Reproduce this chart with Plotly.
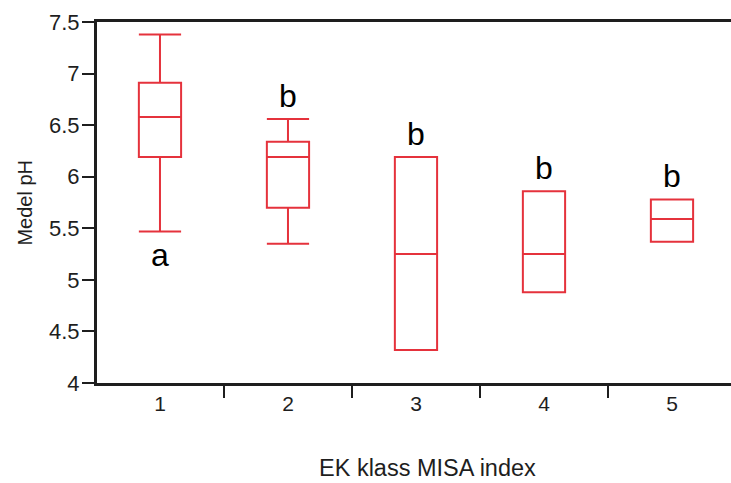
import plotly.graph_objects as go

# Box statistics of mean pH per EK class (MISA index)
classes = ["1", "2", "3", "4", "5"]
lower_fence = [5.47, 5.35, 4.32, 4.88, 5.37]
q1 = [6.19, 5.70, 4.32, 4.88, 5.37]
median = [6.58, 6.19, 5.25, 5.25, 5.59]
q3 = [6.91, 6.34, 6.19, 5.86, 5.78]
upper_fence = [7.38, 6.56, 6.19, 5.86, 5.78]
group_letters = ["a", "b", "b", "b", "b"]
y_ticks = [4, 4.5, 5, 5.5, 6, 6.5, 7, 7.5]
y_tick_text = ["4", "4.5", "5", "5.5", "6", "6.5", "7", "7.5"]

RED = "#E5323C"
INK = "#1e1e1e"
FONT = "Liberation Sans, Arial, Helvetica, sans-serif"

fig = go.Figure()
fig.add_trace(go.Box(
    x=classes,
    q1=q1,
    median=median,
    q3=q3,
    lowerfence=lower_fence,
    upperfence=upper_fence,
    width=0.33,
    whiskerwidth=1,
    line=dict(color=RED, width=2),
    fillcolor="rgba(255,255,255,0)",
    boxpoints=False,
    showlegend=False,
))

# Significance letters: "a" under the first box, "b" above the others
# (x given as the category index so the labels sit on their own box)
for i, letter in enumerate(group_letters):
    if letter == "a":
        fig.add_annotation(x=i, y=lower_fence[i], text=letter,
                           showarrow=False, yanchor="top", yshift=-4,
                           font=dict(family=FONT, size=32, color="black"))
    else:
        fig.add_annotation(x=i, y=upper_fence[i], text=letter,
                           showarrow=False, yanchor="bottom", yshift=3,
                           font=dict(family=FONT, size=32, color="black"))

# Axis titles
fig.add_annotation(xref="paper", yref="paper", x=0.522, y=-0.235,
                   text="EK klass MISA index", showarrow=False,
                   xanchor="center", yanchor="middle",
                   font=dict(family=FONT, size=23.5, color=INK))
fig.add_annotation(xref="paper", yref="paper", x=-0.115, y=0.5,
                   text="Medel pH", showarrow=False, textangle=-90,
                   xanchor="center", yanchor="middle",
                   font=dict(family=FONT, size=20, color=INK))

fig.update_layout(
    width=731,
    height=483,
    margin=dict(l=97, r=0, t=22, b=100),
    paper_bgcolor="white",
    plot_bgcolor="white",
    font=dict(family=FONT, color=INK),
)
fig.update_xaxes(
    type="category",
    range=[-0.492, 4.461],
    showline=True, linecolor=INK, linewidth=3, mirror=True,
    ticks="outside", tickson="boundaries", ticklen=12, tickwidth=2, tickcolor=INK,
    tickfont=dict(family=FONT, size=21, color=INK),
    showgrid=False, zeroline=False,
)
fig.update_yaxes(
    range=[4, 7.5],
    tickvals=y_ticks, ticktext=y_tick_text,
    showline=True, linecolor=INK, linewidth=3,
    ticks="outside", ticklen=12, tickwidth=2, tickcolor=INK,
    ticklabelstandoff=-2,
    tickfont=dict(family=FONT, size=22, color=INK),
    showgrid=False, zeroline=False,
)

fig.write_html("out.html")
